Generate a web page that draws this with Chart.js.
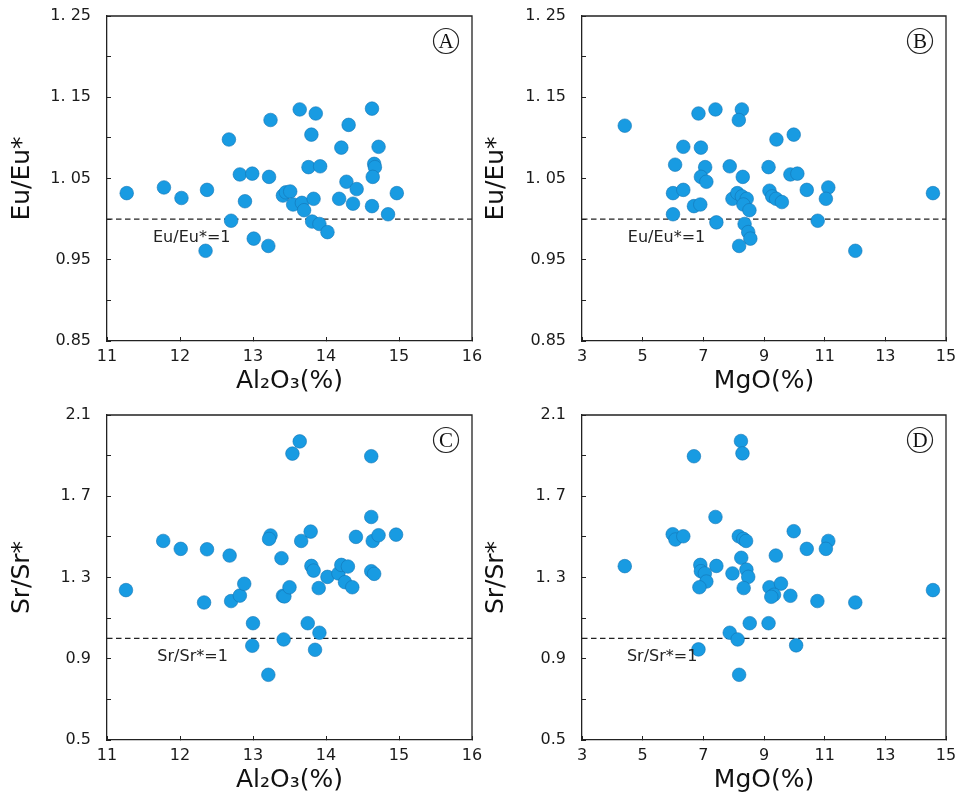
<!DOCTYPE html>
<html>
<head>
<meta charset="utf-8">
<script src="https://cdn.jsdelivr.net/npm/chart.js@4.4.1/dist/chart.umd.min.js"></script>
<style>
	body {margin:0; background:#fff;}
	#lienzo {position:relative; width:957px; height:795px;}
	canvas {position:absolute;}
</style>
</head>
<body onload="Inicio()">
<div id="lienzo">
	<canvas id="grafB" width="479" height="395" style="left:478px;top:0px;"></canvas>
	<canvas id="grafD" width="479" height="395" style="left:478px;top:399px;"></canvas>
	<canvas id="grafA" width="492" height="395" style="left:0px;top:0px;"></canvas>
	<canvas id="grafC" width="492" height="395" style="left:0px;top:399px;"></canvas>
</div>
<script>
//	Datos (Eu/Eu* y Sr/Sr* frente a Al2O3 y MgO)

//	Panel A: Al2O3 vs Eu/Eu*
var alA=[11.27,11.78,12.02,12.37,12.35,12.67,12.70,12.82,12.99,12.89,13.01,13.24,13.22,13.21,13.41,13.45,13.51,13.55,13.67,13.70,13.64,13.80,13.76,13.86,13.92,13.83,13.81,13.91,14.02,14.21,14.31,14.28,14.18,14.42,14.37,14.63,14.72,14.66,14.67,14.64,14.63,14.85,14.97];
var euA=[1.032,1.039,1.026,1.036,0.961,1.098,0.998,1.055,1.056,1.022,0.976,1.122,1.052,0.967,1.029,1.033,1.034,1.018,1.020,1.011,1.135,1.104,1.064,1.130,1.065,1.025,0.997,0.994,0.984,1.088,1.116,1.046,1.025,1.037,1.019,1.136,1.089,1.068,1.064,1.052,1.016,1.006,1.032];

//	Panel B: MgO vs Eu/Eu*
var mgB=[4.41,6.84,7.40,8.27,8.17,6.34,6.92,9.41,9.98,6.07,7.06,7.87,9.15,6.92,7.10,8.30,9.87,10.10,6.00,6.34,6.69,6.90,6.00,7.43,7.96,8.12,8.27,8.43,8.32,8.52,8.36,8.48,8.55,8.18,9.18,9.27,9.40,9.59,10.41,11.12,11.04,10.77,12.01,14.57];
var euB=[1.115,1.130,1.135,1.135,1.122,1.089,1.088,1.098,1.104,1.067,1.064,1.065,1.064,1.052,1.046,1.052,1.055,1.056,1.032,1.036,1.016,1.018,1.006,0.996,1.025,1.032,1.028,1.025,1.018,1.011,0.994,0.984,0.976,0.967,1.035,1.028,1.025,1.021,1.036,1.039,1.025,0.998,0.961,1.032];

//	Panel C: Al2O3 vs Sr/Sr*
var alC=[11.26,11.77,12.01,12.37,12.33,12.68,12.70,12.82,12.88,13.00,12.99,13.24,13.22,13.21,13.39,13.41,13.43,13.50,13.42,13.54,13.64,13.66,13.79,13.80,13.83,13.75,13.90,13.91,13.85,14.02,14.17,14.21,14.30,14.26,14.36,14.41,14.62,14.62,14.64,14.72,14.62,14.66,14.96];
var srC=[1.238,1.480,1.441,1.439,1.177,1.408,1.184,1.211,1.269,1.075,0.964,1.507,1.490,0.821,1.395,1.210,1.207,1.252,0.995,1.910,1.970,1.480,1.526,1.357,1.334,1.075,1.248,1.028,0.944,1.303,1.320,1.362,1.354,1.277,1.252,1.500,1.897,1.598,1.480,1.508,1.331,1.318,1.511];

//	Panel D: MgO vs Sr/Sr*
var mgD=[4.41,6.69,5.99,6.08,6.34,7.40,8.24,8.29,8.17,8.32,8.41,8.25,9.98,10.41,11.12,11.04,9.39,6.90,7.43,6.92,7.05,7.10,6.87,7.96,8.42,8.48,8.33,9.18,9.56,9.33,9.24,9.87,10.76,12.01,14.57,8.53,9.15,7.87,8.13,6.84,10.06,8.18];
var srD=[1.356,1.897,1.513,1.487,1.503,1.598,1.972,1.911,1.503,1.490,1.480,1.397,1.528,1.441,1.480,1.441,1.408,1.362,1.357,1.331,1.320,1.280,1.252,1.320,1.339,1.303,1.248,1.252,1.270,1.215,1.205,1.210,1.184,1.177,1.238,1.075,1.075,1.028,0.995,0.946,0.966,0.821];

//	Etiquetas de los ejes (desde el minimo hacia arriba)
var euTicks=['0.85','','0.95','','1. 05','','1. 15','','1. 25'];
var srTicks=['0.5','','0.9','','1. 3','','1. 7','','2.1'];
var alTicks=['11','12','13','14','15','16'];
var mgTicks=['3','5','7','9','11','13','15'];

//	Lineas de referencia (valor 1) y sus textos
var refEu=1, refSr=1;
var txtRefEu='Eu/Eu*=1', txtRefSr='Sr/Sr*=1';


var ColorPunto='#189be2';
var ColorBordePunto='#1476b5';
var ColorEjes='#222';


//	funcion a ejecutar al cargarse la pagina
function Inicio()
{
	PresentaGrafico('grafA', alA, euA, 'A', {xMin:11, xMax:16, xStep:1, xTicks:alTicks, xTitulo:'Al\u2082O\u2083(%)',
		yMin:0.85, yMax:1.25, yStep:0.05, yTicks:euTicks, yTitulo:'Eu/Eu*', ref:refEu, txtRef:txtRefEu, txtX:11.63, txtY:0.977,
		anchoY:107, padDcha:20, padTitY:9.5});
	PresentaGrafico('grafB', mgB, euB, 'B', {xMin:3, xMax:15, xStep:2, xTicks:mgTicks, xTitulo:'MgO(%)',
		yMin:0.85, yMax:1.25, yStep:0.05, yTicks:euTicks, yTitulo:'Eu/Eu*', ref:refEu, txtRef:txtRefEu, txtX:4.51, txtY:0.977,
		anchoY:104, padDcha:11, padTitY:5.5});
	PresentaGrafico('grafC', alC, srC, 'C', {xMin:11, xMax:16, xStep:1, xTicks:alTicks, xTitulo:'Al\u2082O\u2083(%)',
		yMin:0.5, yMax:2.1, yStep:0.2, yTicks:srTicks, yTitulo:'Sr/Sr*', ref:refSr, txtRef:txtRefSr, txtX:11.69, txtY:0.91,
		anchoY:107, padDcha:20, padTitY:9.5});
	PresentaGrafico('grafD', mgD, srD, 'D', {xMin:3, xMax:15, xStep:2, xTicks:mgTicks, xTitulo:'MgO(%)',
		yMin:0.5, yMax:2.1, yStep:0.2, yTicks:srTicks, yTitulo:'Sr/Sr*', ref:refSr, txtRef:txtRefSr, txtX:4.48, txtY:0.91,
		anchoY:104, padDcha:11, padTitY:5.5});
}


//	Dibuja el marco superior/derecho, la letra del panel y el texto de la linea de referencia
var PluginMarco={
	id:'marco',
	afterDraw:function(chart, args, opts)
	{
		var ctx=chart.ctx, a=chart.chartArea;
		ctx.save();
		ctx.strokeStyle=ColorEjes;
		ctx.lineWidth=1.3;
		ctx.beginPath();
		ctx.moveTo(a.left, a.top);
		ctx.lineTo(a.right, a.top);
		ctx.lineTo(a.right, a.bottom);
		ctx.stroke();

		//	letra en circulo
		var cx=a.right-26, cy=a.top+25;
		ctx.lineWidth=1.2;
		ctx.beginPath();
		ctx.arc(cx, cy, 12.5, 0, 2*Math.PI);
		ctx.stroke();
		ctx.fillStyle='#111';
		ctx.font='21px "Liberation Serif"';
		ctx.textAlign='center';
		ctx.textBaseline='middle';
		ctx.fillText(opts.letra, cx, cy+1);

		//	texto de la referencia
		ctx.font='16px "DejaVu Sans"';
		ctx.fillStyle=ColorEjes;
		ctx.textAlign='left';
		ctx.fillText(opts.txtRef, chart.scales.x.getPixelForValue(opts.txtX), chart.scales.y.getPixelForValue(opts.txtY));
		ctx.restore();
	}
};


//	Prepara un grafico de dispersion
function PresentaGrafico(idCanvas, valX, valY, letra, cfg)
{
	var Puntos=[];
	for (var i=0;i<valX.length;++i)
		Puntos.push({x:valX[i], y:valY[i]});

	var ctx=document.getElementById(idCanvas).getContext('2d');

	new Chart(ctx, {
		type:'scatter',
		data:{
			datasets:[
				{
					data:Puntos,
					backgroundColor:ColorPunto,
					borderColor:ColorBordePunto,
					borderWidth:0.6,
					pointRadius:6.8
				},
				{
					type:'line',
					data:[{x:cfg.xMin, y:cfg.ref}, {x:cfg.xMax, y:cfg.ref}],
					borderColor:'#222',
					borderWidth:1.3,
					borderDash:[5.5,3.5],
					pointRadius:0,
					fill:false
				}
			]
		},
		options:{
			responsive:false,
			devicePixelRatio:1,
			animation:false,
			events:[],
			layout:{padding:{top:16, right:cfg.padDcha, left:0, bottom:0}},
			plugins:{
				legend:{display:false},
				tooltip:{enabled:false},
				marco:{letra:letra, txtRef:cfg.txtRef, txtX:cfg.txtX, txtY:cfg.txtY}
			},
			scales:{
				x:{
					type:'linear',
					min:cfg.xMin, max:cfg.xMax,
					border:{color:ColorEjes, width:1.3},
					grid:{drawOnChartArea:false, tickLength:-4, color:ColorEjes, tickWidth:1},
					ticks:{
						stepSize:cfg.xStep, maxRotation:0, autoSkip:false, padding:10, color:'#1a1a1a',
						font:{family:'"DejaVu Sans"', size:16},
						callback:function(v, idx){ return cfg.xTicks[idx]; }
					},
					title:{display:true, text:cfg.xTitulo, color:'#111', padding:{top:0, bottom:1},
						font:{family:'"DejaVu Sans"', size:25, lineHeight:1}},
					afterFit:function(s){ s.height=54; s.paddingLeft=0; s.paddingRight=0; }
				},
				y:{
					type:'linear',
					min:cfg.yMin, max:cfg.yMax,
					border:{color:ColorEjes, width:1.3},
					grid:{drawOnChartArea:false, tickLength:-4, color:ColorEjes, tickWidth:1},
					ticks:{
						stepSize:cfg.yStep, autoSkip:false, padding:20, color:'#1a1a1a',
						font:{family:'"DejaVu Sans"', size:16},
						callback:function(v, idx){ return cfg.yTicks[idx]; }
					},
					title:{display:true, text:cfg.yTitulo, color:'#111', padding:{top:cfg.padTitY, bottom:0},
						font:{family:'"DejaVu Sans"', size:25, lineHeight:1}},
					afterFit:function(s){ s.width=cfg.anchoY; s.paddingTop=0; s.paddingBottom=0; }
				}
			}
		},
		plugins:[PluginMarco]
	});
}
</script>
</body>
</html>
